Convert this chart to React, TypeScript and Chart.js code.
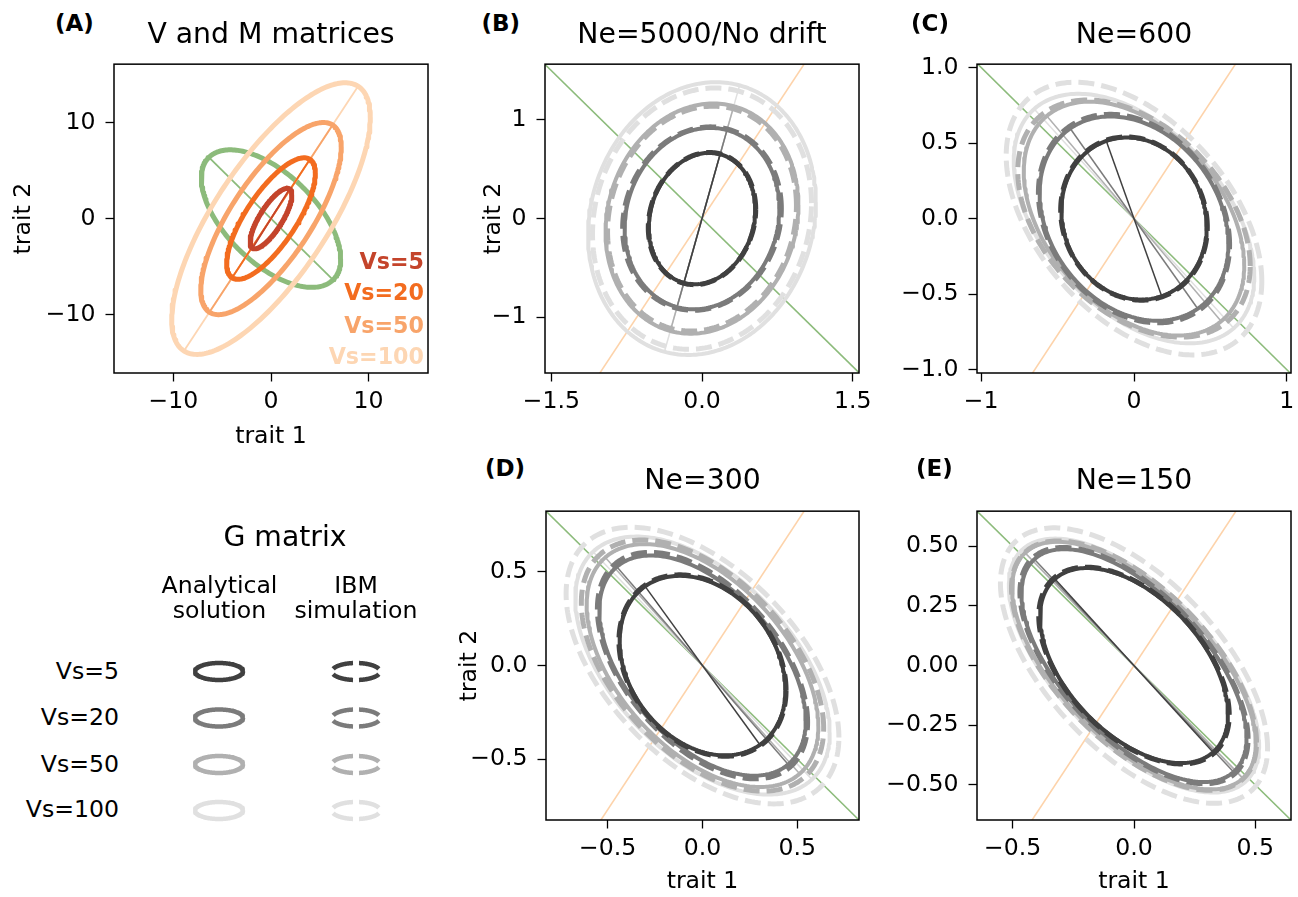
import React, { useEffect, useRef } from "react";
import { Chart, registerables } from "chart.js";

Chart.register(...registerables);

// ---------------- data ----------------
const VS_LABELS = ["Vs=5", "Vs=20", "Vs=50", "Vs=100"];

// Panel A: V matrices (one per Vs) and the M matrix
const V11 = [4.6, 20.7, 51.9, 103.7];
const V22 = [9.9, 39.9, 99.7, 199.3];
const V12 = [5.3, 21.5, 53.7, 107.3];
const M11 = 51.1;
const M22 = 51.1;
const M12 = -29.9;

// Panel B: Ne=5000 / no drift (G matrices: analytical and IBM)
const B_ANA_G11 = [0.281, 0.593, 0.922, 1.286];
const B_ANA_G22 = [0.445, 0.846, 1.362, 1.913];
const B_ANA_G12 = [0.049, 0.076, 0.132, 0.188];
const B_IBM_G11 = [0.286, 0.624, 0.884, 1.188];
const B_IBM_G22 = [0.449, 0.865, 1.3, 1.756];
const B_IBM_G12 = [0.05, 0.08, 0.125, 0.171];

// Panel C: Ne=600
const C_ANA_G11 = [0.226, 0.381, 0.52, 0.619];
const C_ANA_G22 = [0.288, 0.457, 0.599, 0.682];
const C_ANA_G12 = [-0.025, -0.104, -0.224, -0.3];
const C_IBM_G11 = [0.23, 0.391, 0.578, 0.699];
const C_IBM_G22 = [0.292, 0.476, 0.616, 0.814];
const C_IBM_G12 = [-0.027, -0.108, -0.239, -0.347];

// Panel D: Ne=300
const D_ANA_G11 = [0.191, 0.296, 0.373, 0.45];
const D_ANA_G22 = [0.23, 0.346, 0.421, 0.475];
const D_ANA_G12 = [-0.057, -0.16, -0.198, -0.24];
const D_IBM_G11 = [0.194, 0.307, 0.408, 0.517];
const D_IBM_G22 = [0.235, 0.366, 0.45, 0.546];
const D_IBM_G12 = [-0.058, -0.168, -0.214, -0.276];

// Panel E: Ne=150
const E_ANA_G11 = [0.15, 0.215, 0.252, 0.266];
const E_ANA_G22 = [0.167, 0.238, 0.269, 0.283];
const E_ANA_G12 = [-0.079, -0.14, -0.164, -0.173];
const E_IBM_G11 = [0.154, 0.221, 0.255, 0.303];
const E_IBM_G22 = [0.17, 0.245, 0.273, 0.333];
const E_IBM_G12 = [-0.081, -0.144, -0.163, -0.19];

// ticks
const A_TICKS = [-10, 0, 10];
const A_TICK_LABELS = ["\u221210", "0", "10"];
const B_X_TICKS = [-1.5, 0, 1.5];
const B_X_LABELS = ["\u22121.5", "0.0", "1.5"];
const B_Y_TICKS = [-1, 0, 1];
const B_Y_LABELS = ["\u22121", "0", "1"];
const C_X_TICKS = [-1, 0, 1];
const C_X_LABELS = ["\u22121", "0", "1"];
const C_Y_TICKS = [-1, -0.5, 0, 0.5, 1];
const C_Y_LABELS = ["\u22121.0", "\u22120.5", "0.0", "0.5", "1.0"];
const D_TICKS = [-0.5, 0, 0.5];
const D_LABELS = ["\u22120.5", "0.0", "0.5"];
const E_X_TICKS = [-0.5, 0, 0.5];
const E_X_LABELS = ["\u22120.5", "0.0", "0.5"];
const E_Y_TICKS = [-0.5, -0.25, 0, 0.25, 0.5];
const E_Y_LABELS = ["\u22120.50", "\u22120.25", "0.00", "0.25", "0.50"];

// ---------------- styles ----------------
const FONT = '"DejaVu Sans", "Liberation Sans", sans-serif';
const TICK_SIZE = 23.6;
const TITLE_SIZE = 28.3;
const GRAYS = ["#404040", "#7b7b7b", "#b0b0b0", "#e0e0e0"];
const ORANGES = ["#c4442b", "#f36c1f", "#f8a46a", "#fdd6b3"];
const GREEN = "#8cbb7b";
const PEACH = "#fdd3ab";

const AXW = 120;
const PT = 20;
const PR = 20;
const AXH = 80;

// ---------------- helpers ----------------
function ellipse(g11: number, g22: number, g12: number, cx = 0, cy = 0, n = 240) {
  const l11 = Math.sqrt(g11);
  const l21 = g12 / l11;
  const l22 = Math.sqrt(Math.max(g22 - l21 * l21, 0));
  const pts: any[] = [];
  for (let i = 0; i <= n; i++) {
    const t = (2 * Math.PI * i) / n;
    pts.push({ x: cx + l11 * Math.cos(t), y: cy + l21 * Math.cos(t) + l22 * Math.sin(t) });
  }
  return pts;
}

function eig(g11: number, g22: number, g12: number) {
  const m = (g11 + g22) / 2;
  const d = Math.sqrt(((g11 - g22) / 2) ** 2 + g12 * g12);
  return { a: Math.sqrt(m + d), th: 0.5 * Math.atan2(2 * g12, g11 - g22) };
}

function majorAxis(g11: number, g22: number, g12: number, len?: number) {
  const { a, th } = eig(g11, g22, g12);
  const L = len ?? a;
  const p1 = { x: -L * Math.cos(th), y: -L * Math.sin(th) };
  const p2 = { x: L * Math.cos(th), y: L * Math.sin(th) };
  return p1.x < p2.x ? [p1, p2] : [p2, p1];
}

function ds(data: any[], color: string, width: number, dash: number[] = [], dashOffset = 0) {
  return {
    data,
    borderColor: color,
    backgroundColor: color,
    borderWidth: width,
    borderDash: dash,
    borderDashOffset: dashOffset,
    showLine: true,
    pointRadius: 0,
    pointHoverRadius: 0,
    fill: false,
    tension: 0,
    borderJoinStyle: "round",
    borderCapStyle: "butt",
  };
}

function gDatasets(a11: number[], a22: number[], a12: number[], i11: number[], i22: number[], i12: number[]) {
  const list: any[] = [];
  list.push(ds(majorAxis(M11, M22, M12, 20), GREEN, 1.6));
  list.push(ds(majorAxis(V11[3], V22[3], V12[3], 20), PEACH, 1.6));
  for (let i = 3; i >= 0; i--) {
    list.push(ds(ellipse(a11[i], a22[i], a12[i]), GRAYS[i], 4));
    list.push(ds(majorAxis(a11[i], a22[i], a12[i]), GRAYS[i], 1.5));
    list.push(ds(ellipse(i11[i], i22[i], i12[i]), GRAYS[i], 5, [16, 7]));
  }
  return list.reverse(); // first dataset is drawn on top
}

function aDatasets() {
  const list: any[] = [];
  list.push(ds(ellipse(M11, M22, M12), GREEN, 5));
  list.push(ds(majorAxis(M11, M22, M12), GREEN, 1.8));
  for (let i = 3; i >= 0; i--) {
    list.push(ds(ellipse(V11[i], V22[i], V12[i]), ORANGES[i], 5));
    list.push(ds(majorAxis(V11[i], V22[i], V12[i]), ORANGES[i], 1.8));
  }
  return list.reverse();
}

const framePlugin = {
  id: "frame",
  afterDraw(chart: any) {
    const { ctx, chartArea } = chart;
    const { left, top, right, bottom } = chartArea;
    ctx.save();
    ctx.strokeStyle = "#000";
    ctx.lineWidth = 1.5;
    ctx.strokeRect(left, top, right - left, bottom - top);
    ctx.restore();
  },
};

function axisOpts(horizontal: boolean, range: number, ticks: number[], labels: string[], title: string | null, titlePad: number) {
  const font = { family: FONT, size: TICK_SIZE, lineHeight: 1.2 };
  return {
    type: "linear",
    min: -range,
    max: range,
    afterFit: (s: any) => {
      if (horizontal) s.height = AXH;
      else s.width = AXW;
    },
    afterBuildTicks: (s: any) => {
      s.ticks = ticks.map((v) => ({ value: v }));
    },
    ticks: {
      callback: (_v: any, i: number) => labels[i],
      autoSkip: false,
      maxRotation: 0,
      minRotation: 0,
      padding: horizontal ? 6 : 10,
      font,
      color: "#000",
    },
    grid: {
      display: true,
      drawOnChartArea: false,
      drawTicks: true,
      tickLength: 8.5,
      tickWidth: 1.3,
      tickColor: "#000",
    },
    border: { display: false },
    title: title
      ? {
          display: true,
          text: title,
          color: "#000",
          font,
          padding: horizontal ? { top: 0, bottom: titlePad } : { top: titlePad, bottom: 0 },
        }
      : { display: false },
  };
}

type Box = { l: number; t: number; w: number; h: number };

function panelSpec(id: string, box: Box, xr: number, yr: number, xt: number[], xl: string[], yt: number[], yl: string[], xTitle: string | null, xTitleY: number, yTitle: string | null, yTitleX: number, makeData: () => any[]) {
  const left = box.l - AXW;
  const top = box.t - PT;
  const w = AXW + box.w + PR;
  const h = PT + box.h + AXH;
  const lh = TICK_SIZE * 1.2;
  const yPad = yTitle ? yTitleX - left - lh / 2 : 0;
  const xPad = xTitle ? top + h - xTitleY - lh / 2 : 0;
  return {
    id,
    left,
    top,
    w,
    h,
    make: () => ({
      type: "scatter",
      data: { datasets: makeData() },
      options: {
        animation: false,
        responsive: false,
        maintainAspectRatio: false,
        devicePixelRatio: 1,
        events: [],
        layout: { padding: { left: 0, top: PT, right: PR, bottom: 0 } },
        plugins: { legend: { display: false }, tooltip: { enabled: false }, title: { display: false } },
        scales: {
          x: axisOpts(true, xr, xt, xl, xTitle, xPad),
          y: axisOpts(false, yr, yt, yl, yTitle, yPad),
        },
      },
      plugins: [framePlugin],
    }),
  };
}

const PANELS = [
  panelSpec("A", { l: 114, t: 60, w: 314, h: 313 }, 16.1, 16.05, A_TICKS, A_TICK_LABELS, A_TICKS, A_TICK_LABELS, "trait 1", 436.8, "trait 2", 23.8, aDatasets),
  panelSpec("B", { l: 545, t: 60, w: 314, h: 313 }, 1.563, 1.566, B_X_TICKS, B_X_LABELS, B_Y_TICKS, B_Y_LABELS, null, 0, "trait 2", 493.8, () =>
    gDatasets(B_ANA_G11, B_ANA_G22, B_ANA_G12, B_IBM_G11, B_IBM_G22, B_IBM_G12)
  ),
  panelSpec("C", { l: 977, t: 60, w: 314, h: 313 }, 1.027, 1.022, C_X_TICKS, C_X_LABELS, C_Y_TICKS, C_Y_LABELS, null, 0, null, 0, () =>
    gDatasets(C_ANA_G11, C_ANA_G22, C_ANA_G12, C_IBM_G11, C_IBM_G22, C_IBM_G12)
  ),
  panelSpec("D", { l: 546, t: 507, w: 313, h: 313 }, 0.825, 0.825, D_TICKS, D_LABELS, D_TICKS, D_LABELS, "trait 1", 881.8, "trait 2", 469.8, () =>
    gDatasets(D_ANA_G11, D_ANA_G22, D_ANA_G12, D_IBM_G11, D_IBM_G22, D_IBM_G12)
  ),
  panelSpec("E", { l: 977, t: 507, w: 314, h: 313 }, 0.647, 0.647, E_X_TICKS, E_X_LABELS, E_Y_TICKS, E_Y_LABELS, "trait 1", 881.8, null, 0, () =>
    gDatasets(E_ANA_G11, E_ANA_G22, E_ANA_G12, E_IBM_G11, E_IBM_G22, E_IBM_G12)
  ),
];

// legend swatches (layout in page pixels)
const LEG = { left: 150, top: 640, w: 270, h: 200 };
const LEG_ROWS = [671.5, 718, 764.5, 810.5];
const LEG_SOLID_X = 219;
const LEG_DASH_X = 356;
const LEG_RX = 24;
const LEG_RY = 8.5;

const LEGEND_SPEC = {
  id: "legend",
  left: LEG.left,
  top: LEG.top,
  w: LEG.w,
  h: LEG.h,
  make: () => {
    const list: any[] = [];
    for (let i = 0; i < 4; i++) {
      list.push(ds(ellipse(LEG_RX * LEG_RX, LEG_RY * LEG_RY, 0, LEG_SOLID_X, LEG_ROWS[i]), GRAYS[i], 4.5));
      list.push(ds(ellipse(LEG_RX * LEG_RX, LEG_RY * LEG_RY, 0, LEG_DASH_X, LEG_ROWS[i]), GRAYS[i], 4.5, [21, 6], 24));
    }
    return {
      type: "scatter",
      data: { datasets: list },
      options: {
        animation: false,
        responsive: false,
        maintainAspectRatio: false,
        devicePixelRatio: 1,
        events: [],
        layout: { padding: 0 },
        plugins: { legend: { display: false }, tooltip: { enabled: false } },
        scales: {
          x: { type: "linear", display: false, min: LEG.left, max: LEG.left + LEG.w },
          y: { type: "linear", display: false, min: LEG.top, max: LEG.top + LEG.h, reverse: true },
        },
      },
    };
  },
};

type TextSpec = { text: string; x: number; base: number; size: number; bold?: boolean; align: "left" | "center" | "right"; color?: string };

const TEXTS: TextSpec[] = [
  { text: "(A)", x: 55, base: 31, size: 23, bold: true, align: "left" },
  { text: "(B)", x: 481.5, base: 31, size: 23, bold: true, align: "left" },
  { text: "(C)", x: 911, base: 31, size: 23, bold: true, align: "left" },
  { text: "(D)", x: 485, base: 476, size: 23, bold: true, align: "left" },
  { text: "(E)", x: 916, base: 476, size: 23, bold: true, align: "left" },
  { text: "V and M matrices", x: 271, base: 44, size: TITLE_SIZE, align: "center" },
  { text: "Ne=5000/No drift", x: 702, base: 44, size: TITLE_SIZE, align: "center" },
  { text: "Ne=600", x: 1134, base: 44, size: TITLE_SIZE, align: "center" },
  { text: "Ne=300", x: 702.5, base: 490, size: TITLE_SIZE, align: "center" },
  { text: "Ne=150", x: 1134, base: 490, size: TITLE_SIZE, align: "center" },
  { text: VS_LABELS[0], x: 424, base: 268.3, size: 22.2, bold: true, align: "right", color: ORANGES[0] },
  { text: VS_LABELS[1], x: 424, base: 300, size: 22.2, bold: true, align: "right", color: ORANGES[1] },
  { text: VS_LABELS[2], x: 424, base: 332.3, size: 22.2, bold: true, align: "right", color: ORANGES[2] },
  { text: VS_LABELS[3], x: 424, base: 363.3, size: 22.2, bold: true, align: "right", color: ORANGES[3] },
  { text: "G matrix", x: 285, base: 546.7, size: TITLE_SIZE, align: "center" },
  { text: "Analytical", x: 219.5, base: 594, size: TICK_SIZE, align: "center" },
  { text: "solution", x: 219.5, base: 619.3, size: TICK_SIZE, align: "center" },
  { text: "IBM", x: 356, base: 594, size: TICK_SIZE, align: "center" },
  { text: "simulation", x: 356, base: 619.3, size: TICK_SIZE, align: "center" },
  { text: VS_LABELS[0], x: 119, base: 680, size: TICK_SIZE, align: "right" },
  { text: VS_LABELS[1], x: 119, base: 726, size: TICK_SIZE, align: "right" },
  { text: VS_LABELS[2], x: 119, base: 772.7, size: TICK_SIZE, align: "right" },
  { text: VS_LABELS[3], x: 119, base: 818.3, size: TICK_SIZE, align: "right" },
];

function ChartCanvas({ spec }: { spec: any }) {
  const ref = useRef<HTMLCanvasElement | null>(null);
  useEffect(() => {
    if (!ref.current) return;
    const chart = new Chart(ref.current, spec.make());
    return () => chart.destroy();
  }, [spec]);
  return (
    <canvas
      ref={ref}
      width={spec.w}
      height={spec.h}
      style={{ position: "absolute", left: spec.left, top: spec.top, width: spec.w, height: spec.h }}
    />
  );
}

function TextLabel({ t }: { t: TextSpec }) {
  const W = 600;
  const left = t.align === "left" ? t.x : t.align === "center" ? t.x - W / 2 : t.x - W;
  return (
    <div
      style={{
        position: "absolute",
        left,
        top: t.base - 0.846 * t.size,
        width: W,
        textAlign: t.align,
        fontFamily: FONT,
        fontSize: t.size,
        lineHeight: `${t.size}px`,
        fontWeight: t.bold ? "bold" : "normal",
        color: t.color || "#000",
        whiteSpace: "nowrap",
        pointerEvents: "none",
      }}
    >
      {t.text}
    </div>
  );
}

export default function App() {
  return (
    <div style={{ position: "absolute", left: 0, top: 0, width: 1298, height: 897, overflow: "hidden", background: "#fff" }}>
      {PANELS.map((p) => (
        <ChartCanvas key={p.id} spec={p} />
      ))}
      <ChartCanvas spec={LEGEND_SPEC} />
      {TEXTS.map((t, i) => (
        <TextLabel key={i} t={t} />
      ))}
    </div>
  );
}
